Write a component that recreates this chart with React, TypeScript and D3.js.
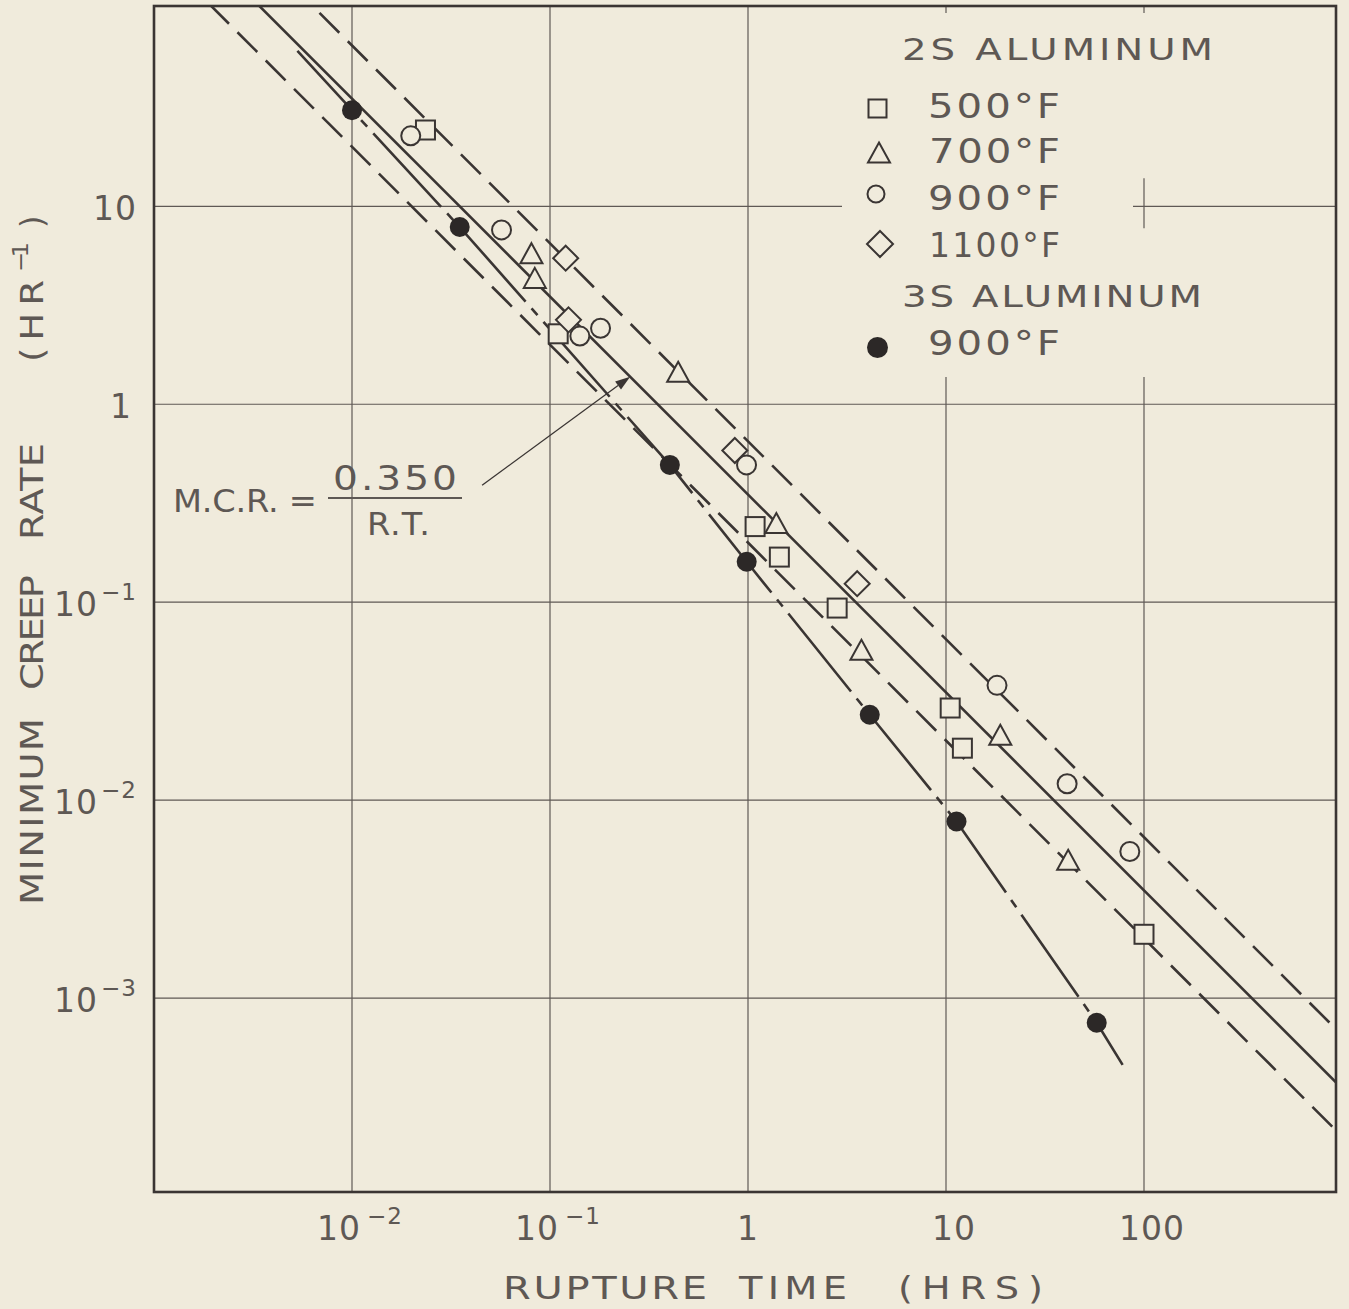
import React from 'react';
import * as d3 from 'd3';

// ---------- data ----------
const xGridValues = [0.01, 0.1, 1, 10, 100];
const yGridValues = [10, 1, 0.1, 0.01, 0.001];
const xTickBase = ['10', '10', '1', '10', '100'];
const xTickExp = ['−2', '−1', '', '', ''];
const yTickBase = ['10', '1', '10', '10', '10'];
const yTickExp = ['', '', '−1', '−2', '−3'];

// 2S aluminum (rupture time hrs, minimum creep rate 1/hr)
const s500RT = [0.0235, 0.11, 1.086, 1.44, 2.82, 10.5, 12.1, 100];
const s500MCR = [24.3, 2.27, 0.241, 0.169, 0.0934, 0.0292, 0.0183, 0.0021];
const s700RT = [0.0806, 0.0838, 0.444, 1.39, 3.74, 18.8, 41.4];
const s700MCR = [5.8, 4.35, 1.46, 0.251, 0.0575, 0.0214, 0.005];
const s900RT = [0.0198, 0.0569, 0.1415, 0.18, 0.983, 18.1, 40.9, 84.8];
const s900MCR = [22.7, 7.6, 2.21, 2.42, 0.494, 0.038, 0.0121, 0.0055];
const s1100RT = [0.12, 0.124, 0.858, 3.56];
const s1100MCR = [5.47, 2.67, 0.584, 0.124];
// 3S aluminum 900F
const t900RT = [0.01, 0.035, 0.403, 0.985, 4.12, 11.3, 57.7];
const t900MCR = [30.6, 7.86, 0.494, 0.16, 0.027, 0.0078, 0.00075];
const t900CurveRT = [0.0053, 0.01, 0.035, 0.403, 0.985, 4.12, 11.3, 57.7, 78];
const t900CurveMCR = [61, 30.6, 7.86, 0.494, 0.16, 0.027, 0.0078, 0.00075, 0.00046];

// M.C.R. = k / R.T. lines
const mcrMain = 0.35;
const mcrUpper = 0.65;
const mcrLower = 0.2;
const lineRT = [0.001, 1000];
const arrowTailRT = 0.0454;
const arrowTailMCR = 0.39;
const arrowTipRT = 0.254;

// ---------- style ----------
const BG = '#f0ebdc';
const INK = '#3a3533';
const TXT = '#5e5854';
const GRID = '#5f5955';
const FONT = "'DejaVu Sans', 'Open Sans', sans-serif";

const zip = (a: number[], b: number[]) => a.map((v, i) => [v, b[i]] as [number, number]);

// wide lettering: horizontally stretched text fitted to a width
function Wide(props: { x: number; y: number; w: number; size: number; sx?: number; rot?: boolean; children: React.ReactNode }) {
  const sx = props.sx ?? 1.22;
  const tf = props.rot
    ? `translate(${props.x},${props.y}) rotate(-90) scale(${sx},1)`
    : `translate(${props.x},${props.y}) scale(${sx},1)`;
  return (
    <text transform={tf} fontSize={props.size} textLength={props.w / sx} lengthAdjust="spacing"
      fontFamily={FONT} fill={TXT}>
      {props.children}
    </text>
  );
}

export default function App() {
  const x = d3.scaleLog().domain([1e-3, 1e3]).range([154, 1342]);
  const y = d3.scaleLog().domain([1e-4, 1e2]).range([1196, 8.4]);
  const F = { left: 154, top: 6, right: 1336, bottom: 1192 };
  const line = d3.line<[number, number]>().x(d => x(d[0])).y(d => y(d[1]));
  const kLine = (k: number) => line(lineRT.map(t => [t, k / t] as [number, number])) || '';

  const sq = (cx: number, cy: number, s: number, key: string) => (
    <rect key={key} x={cx - s / 2} y={cy - s / 2} width={s} height={s} fill={BG} stroke={INK} strokeWidth={2} />
  );
  const tri = (cx: number, cy: number, w: number, h: number, key: string) => (
    <path key={key} d={`M${cx},${cy - h / 2}L${cx + w / 2},${cy + h / 2}L${cx - w / 2},${cy + h / 2}Z`} fill={BG} stroke={INK} strokeWidth={2} />
  );
  const circ = (cx: number, cy: number, r: number, key: string) => (
    <circle key={key} cx={cx} cy={cy} r={r} fill={BG} stroke={INK} strokeWidth={2} />
  );
  const dia = (cx: number, cy: number, r: number, key: string) => (
    <path key={key} d={`M${cx},${cy - r}L${cx + r},${cy}L${cx},${cy + r}L${cx - r},${cy}Z`} fill={BG} stroke={INK} strokeWidth={2} />
  );
  const dot = (cx: number, cy: number, r: number, key: string) => (
    <circle key={key} cx={cx} cy={cy} r={r} fill="#2c2827" />
  );

  // arrow
  const tipX = x(arrowTipRT), tipY = y(mcrMain / arrowTipRT);
  const tailX = x(arrowTailRT), tailY = y(arrowTailMCR);
  const ang = Math.atan2(tipY - tailY, tipX - tailX);
  const ah = 15, aw = 5;
  const bx = tipX - ah * Math.cos(ang), by = tipY - ah * Math.sin(ang);
  const arrowHead = `M${tipX},${tipY}L${bx + aw * Math.sin(ang)},${by - aw * Math.cos(ang)}L${bx - aw * Math.sin(ang)},${by + aw * Math.cos(ang)}Z`;

  const textBase = { fontFamily: FONT, fill: TXT } as const;

  return (
    <svg width={1349} height={1309} style={{ position: 'absolute', left: 0, top: 0 }}>
      <defs>
        <clipPath id="plot">
          <rect x={F.left} y={F.top} width={F.right - F.left} height={F.bottom - F.top} />
        </clipPath>
      </defs>
      <rect x={0} y={0} width={1349} height={1309} fill={BG} />

      {/* grid */}
      <g stroke={GRID} strokeWidth={1.2}>
        {xGridValues.map(v => <line key={'gx' + v} x1={x(v)} x2={x(v)} y1={F.top} y2={F.bottom} />)}
        {yGridValues.map(v => <line key={'gy' + v} x1={F.left} x2={F.right} y1={y(v)} y2={y(v)} />)}
      </g>
      {/* legend area blanked */}
      <rect x={842} y={13} width={F.right - 842 - 1} height={377 - 13} fill={BG} />
      <g stroke={GRID} strokeWidth={1.2}>
        <line x1={1133} x2={F.right} y1={y(10)} y2={y(10)} />
        <line x1={x(100)} x2={x(100)} y1={y(10) - 28} y2={y(10) + 22} />
      </g>

      {/* lines */}
      <g clipPath="url(#plot)" fill="none" stroke={INK} strokeWidth={2.6}>
        <path d={kLine(mcrMain)} />
        <path d={kLine(mcrUpper)} strokeDasharray="28 12" strokeDashoffset={6} />
        <path d={kLine(mcrLower)} strokeDasharray="28 12" strokeDashoffset={2} />
        <path d={line(zip(t900CurveRT, t900CurveMCR)) || ''} strokeDasharray="100 9 9 9" strokeDashoffset={15} />
      </g>

      {/* arrow */}
      <line x1={tailX} y1={tailY} x2={bx} y2={by} stroke={INK} strokeWidth={1.3} />
      <path d={arrowHead} fill={INK} />

      {/* markers */}
      <g>
        {zip(s500RT, s500MCR).map((d, i) => sq(x(d[0]), y(d[1]), 19, 's5' + i))}
        {zip(s700RT, s700MCR).map((d, i) => tri(x(d[0]), y(d[1]), 22, 20, 's7' + i))}
        {zip(s900RT, s900MCR).map((d, i) => circ(x(d[0]), y(d[1]), 9.5, 's9' + i))}
        {zip(s1100RT, s1100MCR).map((d, i) => dia(x(d[0]), y(d[1]), 12.5, 's11' + i))}
        {zip(t900RT, t900MCR).map((d, i) => dot(x(d[0]), y(d[1]), 10, 't9' + i))}
      </g>

      {/* frame */}
      <rect x={F.left} y={F.top} width={F.right - F.left} height={F.bottom - F.top} fill="none" stroke={INK} strokeWidth={2.6} />

      {/* legend */}
      <Wide x={902} y={60} w={311} size={31} sx={1.25}>2S ALUMINUM</Wide>
      <Wide x={928} y={118} w={132} size={33}>500°F</Wide>
      <Wide x={929} y={163} w={131} size={33}>700°F</Wide>
      <Wide x={928} y={210} w={132} size={33}>900°F</Wide>
      <Wide x={929} y={257} w={131} size={33} sx={1.0}>1100°F</Wide>
      <Wide x={902} y={307} w={300} size={31} sx={1.25}>3S ALUMINUM</Wide>
      <Wide x={928} y={355} w={132} size={33}>900°F</Wide>
      {sq(877.5, 108.5, 18, 'l1')}
      {tri(879, 152.5, 22, 20, 'l2')}
      {circ(876, 194, 8.5, 'l3')}
      {dia(880, 244, 13, 'l4')}
      {dot(877.5, 347.5, 10.5, 'l5')}

      {/* annotation */}
      <Wide x={173} y={512} w={144} size={32} sx={1.05}>M.C.R. =</Wide>
      <Wide x={333} y={490} w={124} size={34} sx={1.15}>0.350</Wide>
      <Wide x={367} y={535} w={63} size={32} sx={1.05}>R.T.</Wide>
      <line x1={328} x2={462} y1={498} y2={498} stroke={TXT} strokeWidth={2} />

      {/* x tick labels */}
      <g {...textBase} fontSize={33} textAnchor="middle" letterSpacing={1}>
        {xGridValues.map((v, i) => (
          <text key={'xt' + v} x={x(v) + (xTickBase[i] !== '1' ? 8 : 0)} y={1240}>
            {xTickBase[i]}
            {xTickExp[i] && <tspan fontSize={23} dx={6} dy={-16}>{xTickExp[i]}</tspan>}
          </text>
        ))}
      </g>
      {/* y tick labels */}
      <g {...textBase} fontSize={33} letterSpacing={1}>
        {yGridValues.map((v, i) => (
          <text key={'yt' + v} x={yTickBase[i] === '1' && !yTickExp[i] ? 121 : 137} y={y(v) + 14}
            textAnchor={yTickBase[i] === '1' && !yTickExp[i] ? 'middle' : 'end'}>
            {yTickBase[i]}
            {yTickExp[i] && <tspan fontSize={23} dx={3} dy={-16}>{yTickExp[i]}</tspan>}
          </text>
        ))}
      </g>

      {/* axis titles */}
      <Wide x={503} y={1299} w={204} size={32} sx={1.25}>RUPTURE</Wide>
      <Wide x={739} y={1299} w={108} size={32} sx={1.2}>TIME</Wide>
      <Wide x={898} y={1299} w={145} size={32} sx={1.2}>(HRS)</Wide>

      <Wide rot x={43} y={905} w={187} size={32} sx={1.2}>MINIMUM</Wide>
      <Wide rot x={43} y={690} w={115} size={32} sx={1.2}>CREEP</Wide>
      <Wide rot x={43} y={540} w={97} size={32} sx={1.2}>RATE</Wide>
      <Wide rot x={43} y={362} w={82} size={32} sx={1.15}>(HR</Wide>
      <Wide rot x={28} y={272} w={30} size={22} sx={1.1}>−1</Wide>
      <Wide rot x={43} y={228} w={20} size={32} sx={1}>)</Wide>
    </svg>
  );
}
